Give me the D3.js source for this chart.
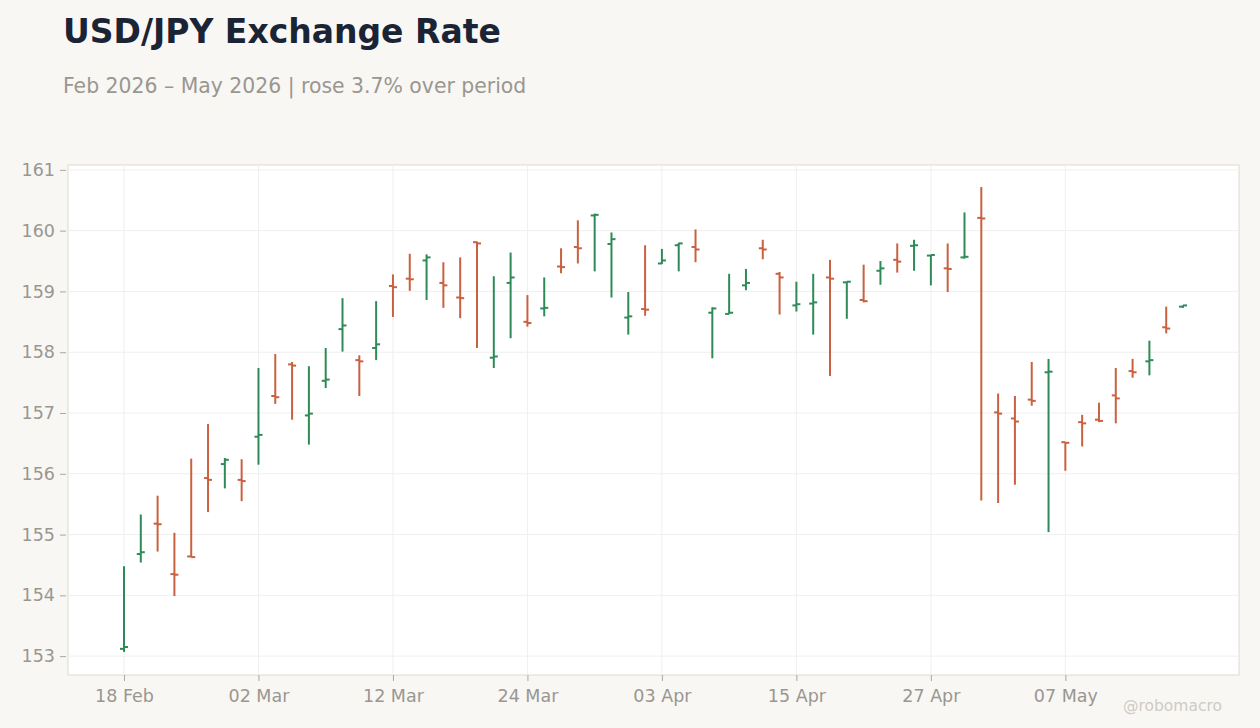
<!DOCTYPE html>
<html>
  <head>
    <meta charset="utf-8">
    <script src="https://d3js.org/d3.v7.min.js"></script>
    <title>USD/JPY Exchange Rate</title>
    <style>
      body { margin: 0; background: #f8f7f4; font-family: 'DejaVu Sans', sans-serif; }
      svg { display: block; }
    </style>
  </head>
  <body>
    <svg></svg>

    <script type="text/javascript">
      const dates = [
        '2026-02-18', '2026-02-19', '2026-02-20', '2026-02-23', '2026-02-24', '2026-02-25', '2026-02-26', '2026-02-27',
        '2026-03-02', '2026-03-03', '2026-03-04', '2026-03-05', '2026-03-06', '2026-03-09', '2026-03-10', '2026-03-11',
        '2026-03-12', '2026-03-13', '2026-03-16', '2026-03-17', '2026-03-18', '2026-03-19', '2026-03-20', '2026-03-23',
        '2026-03-24', '2026-03-25', '2026-03-26', '2026-03-27', '2026-03-30', '2026-03-31', '2026-04-01', '2026-04-02',
        '2026-04-03', '2026-04-06', '2026-04-07', '2026-04-08', '2026-04-09', '2026-04-10', '2026-04-13', '2026-04-14',
        '2026-04-15', '2026-04-16', '2026-04-17', '2026-04-20', '2026-04-21', '2026-04-22', '2026-04-23', '2026-04-24',
        '2026-04-27', '2026-04-28', '2026-04-29', '2026-04-30', '2026-05-01', '2026-05-04', '2026-05-05', '2026-05-06',
        '2026-05-07', '2026-05-08', '2026-05-11', '2026-05-12', '2026-05-13', '2026-05-14', '2026-05-15', '2026-05-18'
      ]

      const open = [
        153.12, 154.68, 155.18, 154.35, 154.64, 155.93, 156.16, 155.90,
        156.61, 157.28, 157.80, 156.96, 157.53, 158.38, 157.87, 158.07,
        159.09, 159.21, 159.51, 159.14, 158.90, 159.81, 157.91, 159.14,
        158.50, 158.72, 159.41, 159.73, 160.25, 159.78, 158.57, 158.71,
        159.46, 159.76, 159.73, 158.65, 158.63, 159.10, 159.71, 159.29,
        158.77, 158.80, 159.23, 159.15, 158.86, 159.34, 159.52, 159.75,
        159.59, 159.38, 159.56, 160.21, 157.01, 156.91, 157.22, 157.67,
        156.52, 156.85, 156.89, 157.29, 157.69, 157.85, 158.41, 158.75
      ]

      const high = [
        154.48, 155.33, 155.64, 155.03, 156.25, 156.82, 156.26, 156.24,
        157.74, 157.97, 157.84, 157.77, 158.07, 158.89, 157.95, 158.84,
        159.28, 159.62, 159.61, 159.48, 159.56, 159.82, 159.25, 159.64,
        158.94, 159.23, 159.71, 160.17, 160.28, 159.97, 158.99, 159.76,
        159.70, 159.80, 160.02, 158.74, 159.29, 159.37, 159.85, 159.32,
        159.16, 159.29, 159.52, 159.16, 159.44, 159.50, 159.79, 159.85,
        159.60, 159.79, 160.30, 160.72, 157.32, 157.28, 157.84, 157.89,
        156.52, 156.97, 157.17, 157.74, 157.89, 158.19, 158.75, 158.77
      ]

      const low = [
        153.07, 154.54, 154.72, 153.99, 154.63, 155.37, 155.76, 155.55,
        156.15, 157.15, 156.89, 156.48, 157.41, 158.01, 157.28, 157.87,
        158.58, 159.01, 158.86, 158.73, 158.56, 158.07, 157.74, 158.23,
        158.42, 158.59, 159.30, 159.46, 159.33, 158.90, 158.29, 158.60,
        159.45, 159.33, 159.48, 157.90, 158.63, 159.02, 159.53, 158.62,
        158.67, 158.29, 157.61, 158.55, 158.82, 159.11, 159.31, 159.34,
        159.10, 158.99, 159.54, 155.56, 155.52, 155.82, 157.12, 155.04,
        156.05, 156.45, 156.85, 156.83, 157.58, 157.62, 158.31, 158.73
      ]

      const close = [
        153.15, 154.71, 155.17, 154.34, 154.63, 155.90, 156.23, 155.88,
        156.64, 157.26, 157.78, 156.99, 157.55, 158.44, 157.85, 158.13,
        159.07, 159.20, 159.56, 159.10, 158.89, 159.79, 157.93, 159.23,
        158.48, 158.73, 159.40, 159.71, 160.26, 159.86, 158.59, 158.70,
        159.51, 159.79, 159.69, 158.72, 158.65, 159.14, 159.69, 159.23,
        158.79, 158.82, 159.21, 159.16, 158.84, 159.38, 159.49, 159.76,
        159.60, 159.37, 159.57, 160.20, 156.99, 156.86, 157.20, 157.68,
        156.51, 156.83, 156.87, 157.24, 157.67, 157.87, 158.39, 158.77
      ]

      const yTicks = [153, 154, 155, 156, 157, 158, 159, 160, 161]

      const width = 1260
      const height = 728
      const margin = {top: 165, right: 21, bottom: 53, left: 68}

      const green = '#2e8b57'
      const red = '#c9603f'

      const data = dates.map((d, i) => ({
        date: d,
        open: open[i],
        high: high[i],
        low: low[i],
        close: close[i]
      }))

      const svg =
        d3.select('svg')
          .attr('width', width)
          .attr('height', height)

      const x =
        d3.scalePoint()
          .domain(dates)
          .range([margin.left, width - margin.right])
          .padding(3.33)

      const y =
        d3.scaleLinear()
          .domain([152.69, 161.08])
          .range([height - margin.bottom, margin.top])

      const xTicks = dates.filter((d, i) => i % 8 === 0)
      const parse = d3.timeParse('%Y-%m-%d')
      const fmt = d3.timeFormat('%d %b')

      // plot frame
      svg.append('rect')
        .attr('x', margin.left)
        .attr('y', margin.top)
        .attr('width', width - margin.left - margin.right)
        .attr('height', height - margin.top - margin.bottom)
        .attr('fill', '#ffffff')
        .attr('stroke', '#dedad3')

      // grid
      svg.selectAll('.hgrid')
        .data(yTicks)
        .enter()
        .append('line')
          .attr('class', 'hgrid')
          .attr('x1', margin.left)
          .attr('x2', width - margin.right)
          .attr('y1', d => y(d))
          .attr('y2', d => y(d))
          .attr('stroke', '#efefef')

      svg.selectAll('.vgrid')
        .data(xTicks)
        .enter()
        .append('line')
          .attr('class', 'vgrid')
          .attr('x1', d => x(d))
          .attr('x2', d => x(d))
          .attr('y1', margin.top)
          .attr('y2', height - margin.bottom)
          .attr('stroke', '#efefef')

      // axes
      const yAxis =
        svg.append('g')
          .attr('transform', `translate(${margin.left - 2},0)`)
          .call(d3.axisLeft(y).tickValues(yTicks).tickSize(6).tickPadding(5))

      const xAxis =
        svg.append('g')
          .attr('transform', `translate(0,${height - margin.bottom})`)
          .call(
            d3.axisBottom(x)
              .tickValues(xTicks)
              .tickSize(6)
              .tickPadding(9)
              .tickFormat(d => fmt(parse(d)))
          )

      for (const g of [yAxis, xAxis]) {
        g.select('.domain').remove()
        g.selectAll('line').attr('stroke', '#aaa6a0')
        g.selectAll('text')
          .attr('fill', '#9a9690')
          .style('font-family', "'DejaVu Sans', sans-serif")
          .style('font-size', '17.5px')
      }

      // ohlc bars
      const bars =
        svg.selectAll('.bar')
          .data(data)
          .enter()
          .append('g')
            .attr('class', 'bar')
            .attr('stroke', d => d.close >= d.open ? green : red)
            .attr('stroke-width', 2)

      bars.append('line')
        .attr('x1', d => x(d.date))
        .attr('x2', d => x(d.date))
        .attr('y1', d => y(d.high))
        .attr('y2', d => y(d.low))

      bars.append('line')
        .attr('x1', d => x(d.date) - 4)
        .attr('x2', d => x(d.date))
        .attr('y1', d => y(d.open))
        .attr('y2', d => y(d.open))

      bars.append('line')
        .attr('x1', d => x(d.date))
        .attr('x2', d => x(d.date) + 4)
        .attr('y1', d => y(d.close))
        .attr('y2', d => y(d.close))

      // titles
      svg.append('text')
        .attr('x', 63)
        .attr('y', 43)
        .attr('fill', '#1b2435')
        .style('font-size', '33px')
        .style('font-weight', 'bold')
        .text('USD/JPY Exchange Rate')

      svg.append('text')
        .attr('x', 63)
        .attr('y', 93)
        .attr('fill', '#9a9690')
        .style('font-size', '20.4px')
        .text('Feb 2026 – May 2026 | rose 3.7% over period')

      svg.append('text')
        .attr('x', 1222)
        .attr('y', 711)
        .attr('text-anchor', 'end')
        .attr('fill', '#cfcbc5')
        .style('font-size', '15.5px')
        .text('@robomacro')
    </script>
  </body>
</html>
